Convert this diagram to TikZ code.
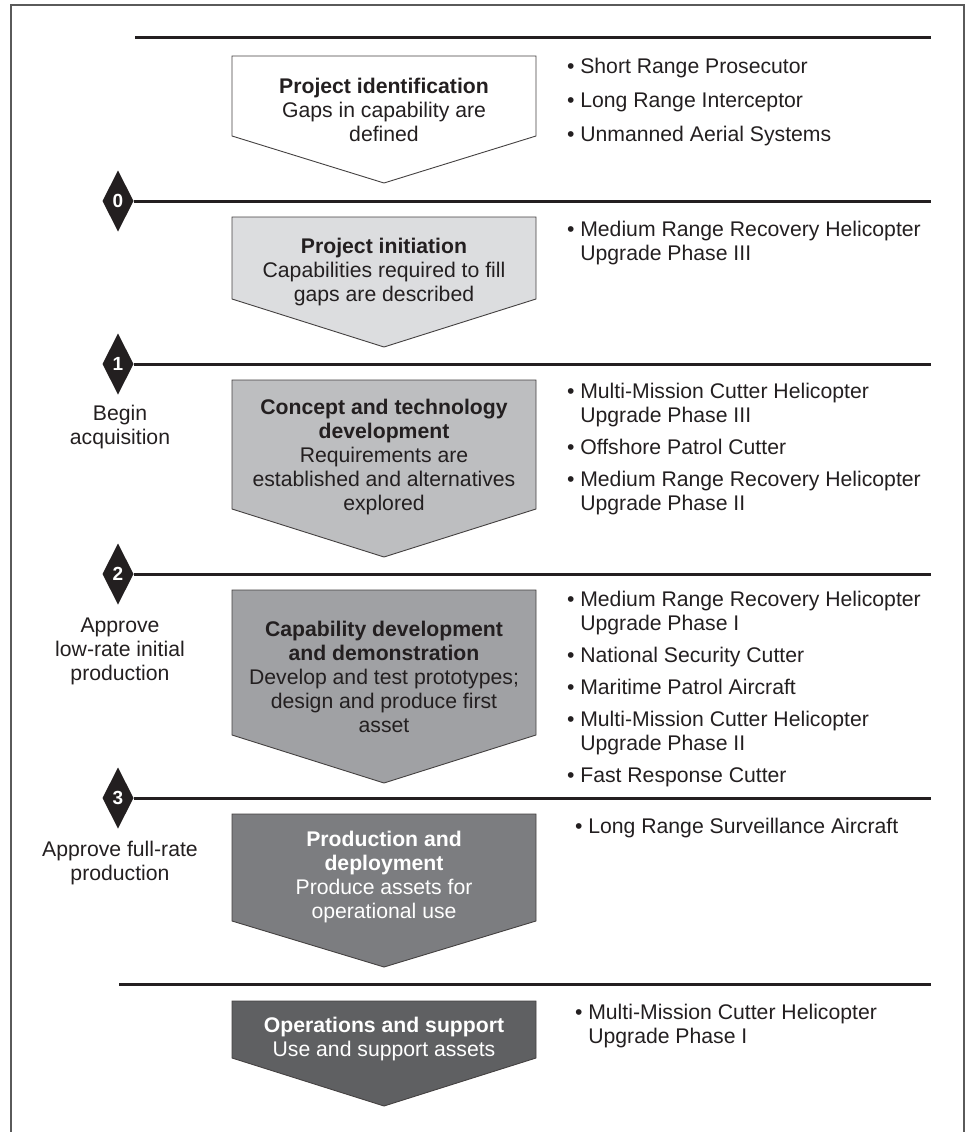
\documentclass[tikz,border=0pt]{standalone}
\usepackage{fontspec}
\setmainfont{Liberation Sans}
\usetikzlibrary{shapes.geometric}
\definecolor{ink}{HTML}{231F20}
\definecolor{frame}{HTML}{5A5A5A}
\definecolor{fA}{HTML}{FFFFFF}
\definecolor{fB}{HTML}{DCDDDF}
\definecolor{fC}{HTML}{BDBEC0}
\definecolor{fD}{HTML}{A0A1A4}
\definecolor{fE}{HTML}{7C7D80}
\definecolor{fF}{HTML}{5F6062}
\begin{document}
\begin{tikzpicture}[x=1pt,y=-1pt,
  every node/.style={inner sep=0pt, outer sep=0pt},
  txt/.style={font=\fontsize{21.2}{24}\selectfont, align=center, text=ink, anchor=north},
  wtxt/.style={txt, text=white},
  blist/.style={font=\fontsize{21.2}{24}\selectfont, align=left, text=ink, anchor=north west},
  rule/.style={draw=ink, line width=3pt},
  phase/.style={draw=ink!85, line width=0.9pt, line join=miter},
  dmd/.style={shape=diamond, fill=ink, text=white, minimum width=31pt, minimum height=61pt, font=\fontsize{19}{20}\selectfont\bfseries}
]
\useasboundingbox (0,0) rectangle (970,1132);
% frame
\draw[frame, line width=1.6pt] (11,1132) -- (11,5) -- (964,5) -- (964,1132);

% phase shapes
\filldraw[phase, fill=fA] (232,56) -- (536,56) -- (536,136) -- (384,183) -- (232,136) -- cycle;
\filldraw[phase, fill=fB] (232,217) -- (536,217) -- (536,299) -- (384,347) -- (232,299) -- cycle;
\filldraw[phase, fill=fC] (232,380) -- (536,380) -- (536,509) -- (384,557) -- (232,509) -- cycle;
\filldraw[phase, fill=fD] (232,590) -- (536,590) -- (536,735) -- (384,783) -- (232,735) -- cycle;
\filldraw[phase, fill=fE] (232,814) -- (536,814) -- (536,921) -- (384,967) -- (232,921) -- cycle;
\filldraw[phase, fill=fF] (232,1001) -- (536,1001) -- (536,1058) -- (384,1106) -- (232,1058) -- cycle;

% rules and milestones
\coordinate (ta) at (135,38);
\coordinate (tb) at (931,38);
\draw[rule] (ta) -- (tb);
\node[dmd] (d0) at (118,201) {0};
\node[dmd] (d1) at (118,364) {1};
\node[dmd] (d2) at (118,574) {2};
\node[dmd] (d3) at (118,798) {3};
\coordinate (e0) at (931,201);
\coordinate (e1) at (931,364);
\coordinate (e2) at (931,574);
\coordinate (e3) at (931,798);
\draw[rule] (d0.east) -- (e0);
\draw[rule] (d1.east) -- (e1);
\draw[rule] (d2.east) -- (e2);
\draw[rule] (d3.east) -- (e3);
\coordinate (la) at (119,984);
\coordinate (lb) at (931,984);
\draw[rule] (la) -- (lb);

% phase texts
\node[txt] (p1) at (384,78.5) {\textbf{Project identification}\\Gaps in capability are\\defined};
\node[txt] (p2) at (384,238.5) {\textbf{Project initiation}\\Capabilities required to fill\\gaps are described};
\node[txt] (p3) at (384,399.5) {\textbf{Concept and technology}\\\textbf{development}\\Requirements are\\established and alternatives\\explored};
\node[txt] (p4) at (384,621.5) {\textbf{Capability development}\\\textbf{and demonstration}\\Develop and test prototypes;\\design and produce first\\asset};
\node[wtxt] (p5) at (384,831.5) {\textbf{Production and}\\\textbf{deployment}\\Produce assets for\\operational use};
\node[wtxt] (p6) at (384,1017.5) {\textbf{Operations and support}\\Use and support assets};

% milestone labels
\node[txt] (m1) at (120,405.5) {Begin\\acquisition};
\node[txt] (m2) at (120,617.5) {Approve\\low-rate initial\\production};
\node[txt] (m3) at (120,841) {Approve full-rate\\production};

% project lists
\node[blist] (b1) at (567,58.5) {• Short Range Prosecutor\\[10pt]• Long Range Interceptor\\[10pt]• Unmanned Aerial Systems};
\node[blist] (b2) at (567,221.5) {• Medium Range Recovery Helicopter\\\hphantom{• }Upgrade Phase III};
\node[blist] (b3) at (567,383.5) {• Multi-Mission Cutter Helicopter\\\hphantom{• }Upgrade Phase III\\[8pt]• Offshore Patrol Cutter\\[8pt]• Medium Range Recovery Helicopter\\\hphantom{• }Upgrade Phase II};
\node[blist] (b4) at (567,591.5) {• Medium Range Recovery Helicopter\\\hphantom{• }Upgrade Phase I\\[8pt]• National Security Cutter\\[8pt]• Maritime Patrol Aircraft\\[8pt]• Multi-Mission Cutter Helicopter\\\hphantom{• }Upgrade Phase II\\[8pt]• Fast Response Cutter};
\node[blist] (b5) at (575,818.5) {• Long Range Surveillance Aircraft};
\node[blist] (b6) at (575,1004.5) {• Multi-Mission Cutter Helicopter\\\hphantom{• }Upgrade Phase I};
\end{tikzpicture}
\end{document}
